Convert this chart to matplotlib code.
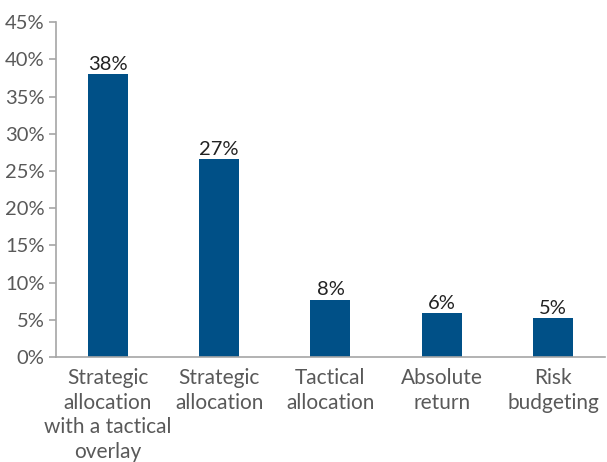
import matplotlib.pyplot as plt
from matplotlib.ticker import PercentFormatter

categories = ['Strategic\nallocation\nwith a tactical\noverlay', 'Strategic\nallocation',
              'Tactical\nallocation', 'Absolute\nreturn', 'Risk\nbudgeting']
values = [38.0, 26.6, 7.7, 5.9, 5.2]
labels = ['38%', '27%', '8%', '6%', '5%']

plt.rcParams['font.family'] = ['Lato', 'DejaVu Sans']

fig = plt.figure(figsize=(6.07, 4.62), dpi=100)
ax = fig.add_axes([0.092, 0.227, 0.905, 0.725])

x = range(len(categories))
bars = ax.bar(x, values, width=0.36, color='#005087')

for b, lab in zip(bars, labels):
    ax.text(b.get_x() + b.get_width() / 2, b.get_height() + 0.2, lab,
            ha='center', va='bottom', fontsize=14.5, color='#222222')

ax.set_ylim(0, 45)
ax.set_xlim(-0.467, 4.468)
ax.set_yticks(range(0, 46, 5))
ax.yaxis.set_major_formatter(PercentFormatter(decimals=0))
ax.set_xticks(list(x))
ax.set_xticklabels(categories, linespacing=1.28)

for s in ['top', 'right']:
    ax.spines[s].set_visible(False)
ax.spines['left'].set_color('#a6a6a6')
ax.spines['bottom'].set_color('#a6a6a6')
ax.spines['left'].set_linewidth(1.2)
ax.spines['bottom'].set_linewidth(1.2)
ax.tick_params(axis='y', colors='#a6a6a6', labelcolor='#595959', labelsize=14.5, length=5, width=1.2, pad=3)
ax.tick_params(axis='x', length=0, labelcolor='#595959', labelsize=15, pad=8)

fig.savefig('out.png', dpi=100)
